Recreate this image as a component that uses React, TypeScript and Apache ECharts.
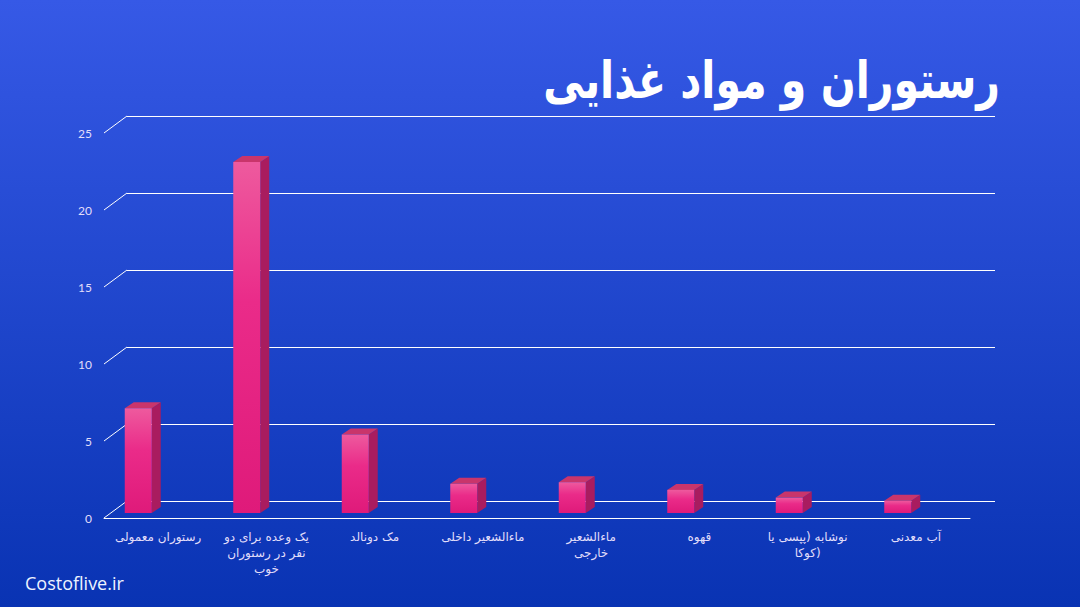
import React, { useEffect, useRef } from "react";
import * as echarts from "echarts";

const categories = [
  "رستوران معمولی",
  "یک وعده برای دو\nنفر در رستوران\nخوب",
  "مک دونالد",
  "ماءالشعیر داخلی",
  "ماءالشعیر\nخارجی",
  "قهوه",
  "نوشابه (پپسی یا\n\u200Eکوکا)\u200E",
  "آب معدنی",
];
const values = [6.8, 22.8, 5.1, 1.9, 2.0, 1.5, 1.0, 0.8];
const yTicks = [0, 5, 10, 15, 20, 25];
const titleText = "رستوران و مواد غذایی";
const watermark = "Costoflive.ir";

export default function App() {
  const ref = useRef<HTMLDivElement>(null);
  useEffect(() => {
    document.body.style.margin = "0";
    const chart = echarts.init(ref.current!, undefined, { renderer: "svg" });
    const labelColor = "#e2defa";
    const option: any = {
      animation: false,
      backgroundColor: {
        type: "linear", x: 0, y: 0, x2: 0, y2: 1,
        colorStops: [
          { offset: 0, color: "#3659e6" },
          { offset: 1, color: "#0933b3" },
        ],
      },
      grid: [
        { left: 127, right: 85, top: 116, bottom: 106 },
        { left: 104, right: 110, top: 133, bottom: 89 },
        { left: 84, right: 128, top: 128, bottom: 94 },
      ],
      xAxis: [
        { type: "category", gridIndex: 0, data: categories, show: false },
        {
          type: "category", gridIndex: 1, data: categories,
          axisLine: { show: true, lineStyle: { color: "#ffffff", width: 1 } },
          axisTick: { show: false },
          axisLabel: {
            color: labelColor, fontSize: 12, fontFamily: "DejaVu Sans",
            margin: 11, lineHeight: 16, interval: 0,
          },
        },
        { type: "category", gridIndex: 2, data: categories, show: false },
      ],
      yAxis: [
        {
          type: "value", gridIndex: 0, min: 0, max: 25, interval: 5,
          axisLabel: { show: false }, axisLine: { show: false }, axisTick: { show: false },
          splitLine: { show: true, lineStyle: { color: "#ffffff", width: 1 } },
        },
        {
          type: "value", gridIndex: 1, min: 0, max: 25, interval: 5,
          axisLine: { show: false }, axisTick: { show: false },
          splitLine: { show: false },
          axisLabel: { color: labelColor, fontSize: 12, fontFamily: "Lato", margin: 12 },
        },
        {
          type: "value", gridIndex: 2, min: 0, max: 25, interval: 5, show: false,
          splitLine: { show: false },
        },
      ],
      series: [
        {
          type: "custom",
          xAxisIndex: 1, yAxisIndex: 1,
          data: yTicks.map((t) => [0, t]),
          renderItem: (params: any, api: any) => {
            const p = api.coord([0, api.value(1)]);
            const x0 = params.coordSys.x;
            return {
              type: "line",
              shape: { x1: x0, y1: p[1], x2: x0 + 23, y2: p[1] - 17 },
              style: { stroke: "#ffffff", lineWidth: 1 },
            };
          },
          silent: true,
          z: 1,
        },
        {
          type: "custom",
          xAxisIndex: 2, yAxisIndex: 2,
          data: values.map((v, i) => [i, v]),
          renderItem: (params: any, api: any) => {
            const i = api.value(0);
            const v = api.value(1);
            const top = api.coord([i, v]);
            const base = api.coord([i, 0]);
            const w = 27, dx = 9, dy = 6;
            const x1 = top[0] - w / 2;
            const x2 = top[0] + w / 2;
            const yt = top[1];
            const yb = base[1];
            return {
              type: "group",
              children: [
                {
                  type: "polygon",
                  shape: { points: [[x2, yt], [x2 + dx, yt - dy], [x2 + dx, yb - dy], [x2, yb]] },
                  style: { fill: "#a91c5f" },
                },
                {
                  type: "polygon",
                  shape: { points: [[x1, yt], [x1 + dx, yt - dy], [x2 + dx, yt - dy], [x2, yt]] },
                  style: { fill: "#c9356b" },
                },
                {
                  type: "rect",
                  shape: { x: x1, y: yt, width: w, height: yb - yt },
                  style: {
                    fill: {
                      type: "linear", x: 0, y: 0, x2: 0, y2: 1,
                      colorStops: [
                        { offset: 0, color: "#ee5a9e" },
                        { offset: 0.4, color: "#ea2b89" },
                        { offset: 1, color: "#df1a7a" },
                      ],
                    },
                  },
                },
              ],
            };
          },
          z: 3,
        },
      ],
      graphic: [
        {
          type: "text",
          x: 1000,
          y: 80,
          scaleX: 0.79,
          style: {
            text: titleText,
            fill: "#ffffff",
            font: "bold 52px 'DejaVu Sans'",
            textAlign: "right",
            textVerticalAlign: "middle",
          },
        },
        {
          type: "text",
          left: 25,
          top: 574,
          style: {
            text: watermark,
            fill: "#eef3ff",
            font: "18px 'Open Sans'",
          },
        },
      ],
    };
    chart.setOption(option);
    return () => chart.dispose();
  }, []);
  return (
    <div
      ref={ref}
      style={{ position: "absolute", left: 0, top: 0, width: 1080, height: 607 }}
    />
  );
}
